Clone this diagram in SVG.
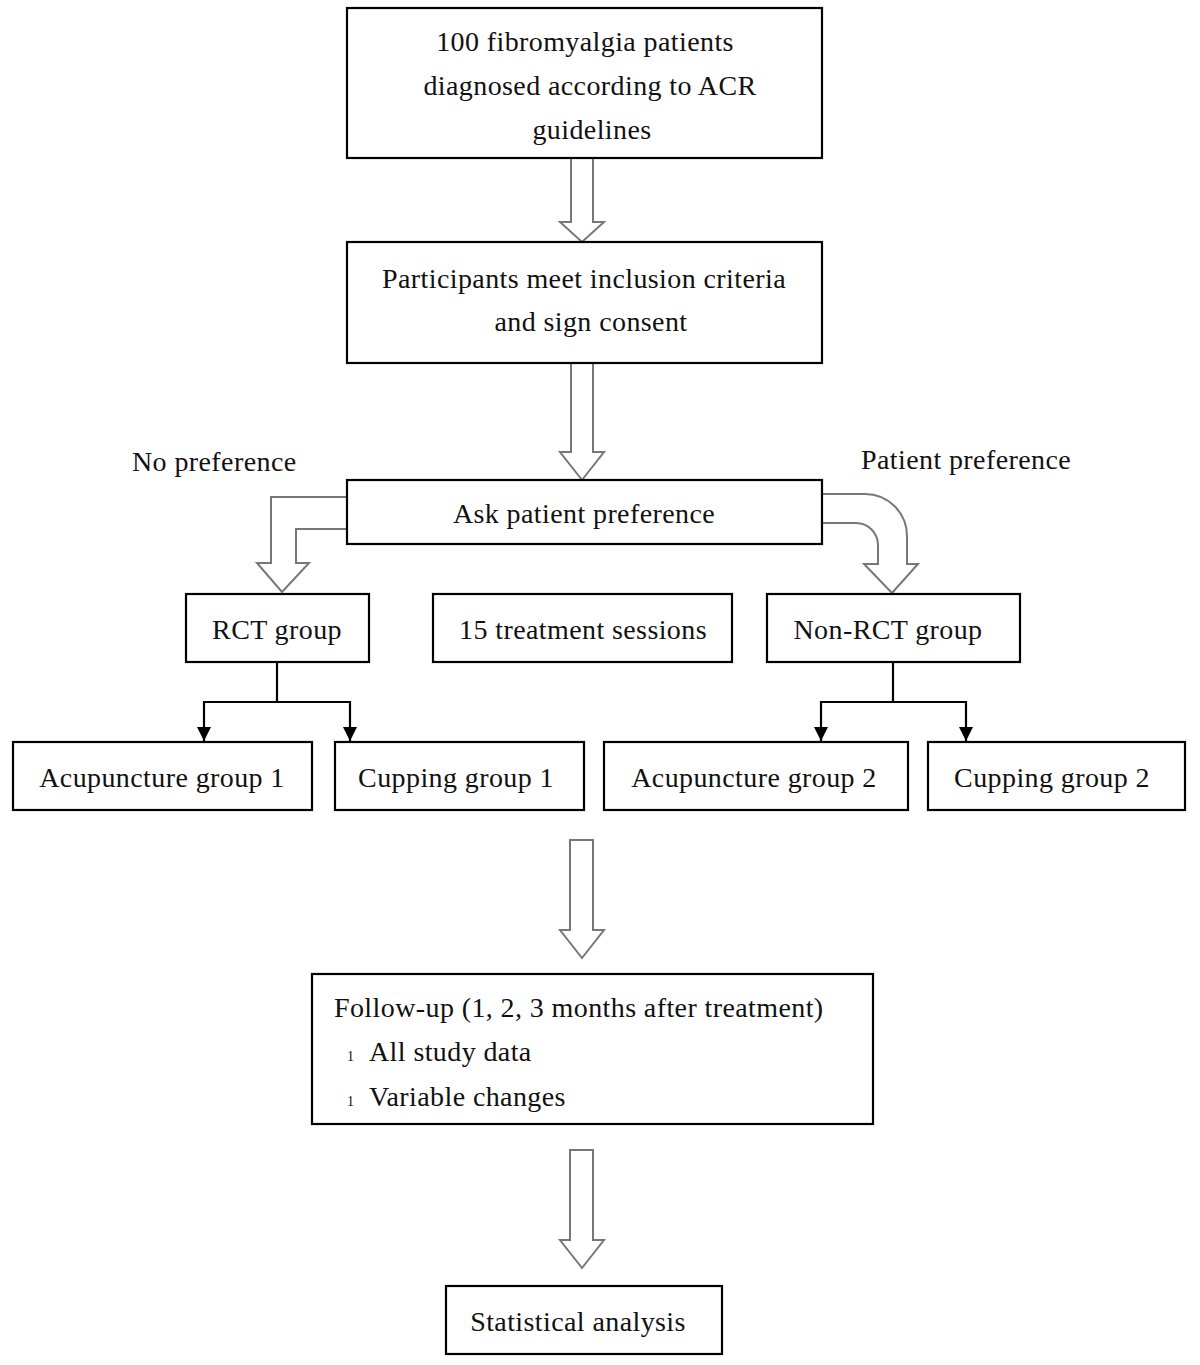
<svg xmlns="http://www.w3.org/2000/svg" width="1200" height="1365" viewBox="0 0 1200 1365">
<style>
.box{fill:#fff;stroke:#000;stroke-width:2.2}
.t{font-family:"Liberation Serif","Times New Roman",serif;font-size:28px;fill:#111;letter-spacing:0.4px}
.c{text-anchor:middle}
.ga{fill:#fff;stroke:#777;stroke-width:2}
.ln{fill:none;stroke:#000;stroke-width:2.2}
.sm{font-family:"Liberation Serif",serif;font-size:14px;fill:#111}
</style>
<defs>
<marker id="ah" viewBox="0 0 14 14" refX="14" refY="7" markerWidth="14" markerHeight="14" markerUnits="userSpaceOnUse" orient="auto">
<path d="M0,0 L14,7 L0,14 Z" fill="#000"/>
</marker>
</defs>
<rect width="1200" height="1365" fill="#fff"/>
<g id="connectors">
<path class="ga" d="M571,158 V222 H560 L582,242 L604,222 H593 V158"/>
<path class="ga" d="M571,363 V452 H560 L582,480 L604,452 H593 V363"/>
<path class="ga" d="M347,497 H271 V563 H257 L282,592 L309,563 H296 V529 H347"/>
<path class="ga" d="M822,494 H865 A42,42 0 0 1 907,536 V564 H918 L892,593 L864,564 H878 V545 A22,22 0 0 0 856,523 H822"/>
<path class="ga" d="M570,840 H593 V930 H604 L582,958 L560,930 H570 Z"/>
<path class="ga" d="M570,1150 H593 V1240 H604 L582,1268 L560,1240 H570 Z"/>
<path class="ln" d="M277,662 V702"/>
<path class="ln" d="M277,702 H204 V741" marker-end="url(#ah)"/>
<path class="ln" d="M277,702 H350 V741" marker-end="url(#ah)"/>
<path class="ln" d="M893,662 V702"/>
<path class="ln" d="M893,702 H821 V741" marker-end="url(#ah)"/>
<path class="ln" d="M893,702 H966 V741" marker-end="url(#ah)"/>
</g>
<g id="n1"><rect class="box" x="347" y="8" width="475" height="150"/>
<text class="t c" x="585" y="51">100 fibromyalgia patients</text>
<text class="t c" x="590" y="95">diagnosed according to ACR</text>
<text class="t c" x="592" y="139">guidelines</text></g>
<g id="n2"><rect class="box" x="347" y="242" width="475" height="121"/>
<text class="t c" x="584" y="288">Participants meet inclusion criteria</text>
<text class="t c" x="591" y="331">and sign consent</text></g>
<g id="n3"><rect class="box" x="347" y="480" width="475" height="64"/>
<text class="t c" x="584" y="523">Ask patient preference</text></g>
<g id="lbl1"><text class="t" x="132" y="471">No preference</text></g>
<g id="lbl2"><text class="t" x="861" y="469">Patient preference</text></g>
<g id="n4"><rect class="box" x="186" y="594" width="183" height="68"/>
<text class="t c" x="277" y="639">RCT group</text></g>
<g id="n5"><rect class="box" x="433" y="594" width="299" height="68"/>
<text class="t c" x="583" y="639">15 treatment sessions</text></g>
<g id="n6"><rect class="box" x="767" y="594" width="253" height="68"/>
<text class="t c" x="888" y="639">Non-RCT group</text></g>
<g id="n7"><rect class="box" x="13" y="742" width="299" height="68"/>
<text class="t c" x="162" y="787">Acupuncture group 1</text></g>
<g id="n8"><rect class="box" x="335" y="742" width="249" height="68"/>
<text class="t c" x="456" y="787">Cupping group 1</text></g>
<g id="n9"><rect class="box" x="604" y="742" width="304" height="68"/>
<text class="t c" x="754" y="787">Acupuncture group 2</text></g>
<g id="n10"><rect class="box" x="928" y="742" width="257" height="68"/>
<text class="t c" x="1052" y="787">Cupping group 2</text></g>
<g id="n11"><rect class="box" x="312" y="974" width="561" height="150"/>
<text class="t" x="334" y="1017">Follow-up (1, 2, 3 months after treatment)</text>
<text class="sm" x="347" y="1061">1</text>
<text class="t" x="369" y="1061">All study data</text>
<text class="sm" x="347" y="1106">1</text>
<text class="t" x="369" y="1106">Variable changes</text></g>
<g id="n12"><rect class="box" x="446" y="1286" width="276" height="68"/>
<text class="t c" x="578" y="1331">Statistical analysis</text></g>
</svg>
